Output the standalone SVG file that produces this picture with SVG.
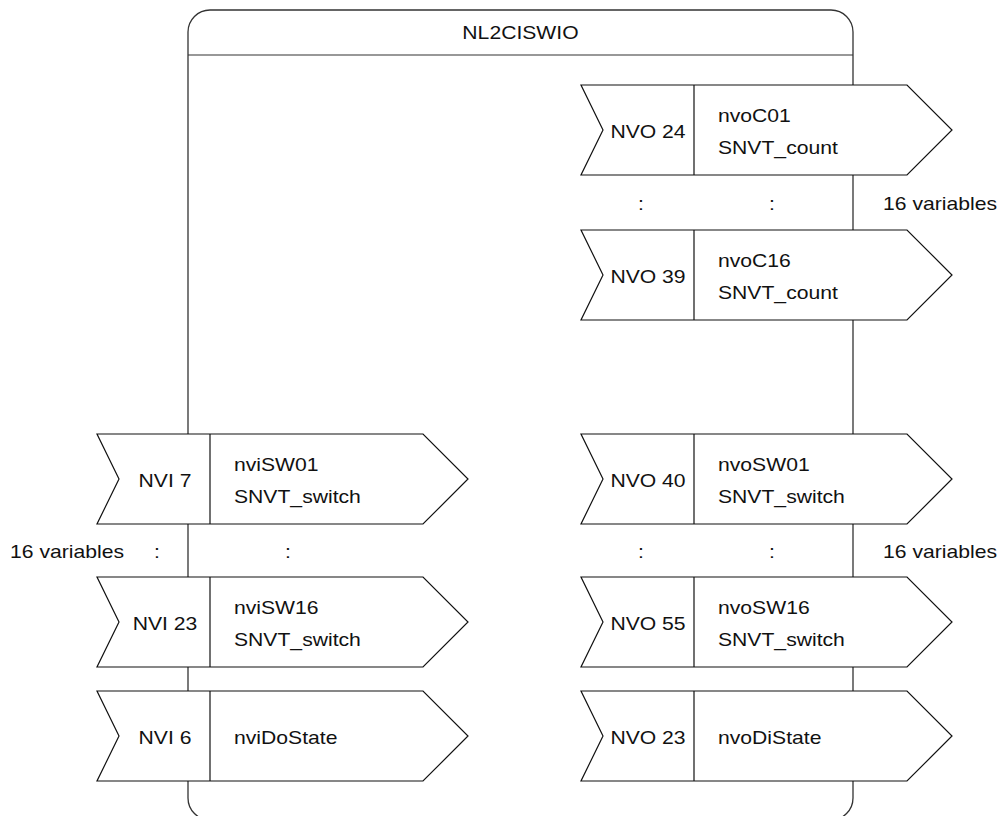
<svg xmlns="http://www.w3.org/2000/svg" width="1002" height="816" viewBox="0 0 1002 816">
<style>
.box{fill:#fff;stroke:#333;stroke-width:1.3}
.sh{fill:#fff;stroke:#111;stroke-width:1.2;stroke-linejoin:miter}
.dv{stroke:#111;stroke-width:1.2}
text{font-family:"Liberation Sans",Arial,Helvetica,sans-serif;font-size:18.5px;fill:#111}
.m{text-anchor:middle}
</style>
<g id="module">
<rect class="box" x="188" y="10" width="665" height="810" rx="22" ry="22"/>
<line class="dv" x1="188" y1="55" x2="853" y2="55" style="stroke:#333"/>
<text class="m" transform="translate(520.5,39) scale(1.143,1)">NL2CISWIO</text>
</g>
<g id="connectors"/>
<g id="nvo24">
<path class="sh" d="M581,85 L907,85 L952,130 L907,175 L581,175 L603,130 Z"/>
<line class="dv" x1="694" y1="85" x2="694" y2="175"/>
<text class="m" transform="translate(648,138) scale(1.143,1)">NVO 24</text>
<text transform="translate(718,122) scale(1.143,1)">nvoC01</text>
<text transform="translate(718,154) scale(1.143,1)">SNVT_count</text>
</g>
<g id="dots-top">
<text class="m" transform="translate(641,210) scale(1.143,1)">:</text>
<text class="m" transform="translate(772,210) scale(1.143,1)">:</text>
<text transform="translate(883,210) scale(1.143,1)">16 variables</text>
</g>
<g id="nvo39">
<path class="sh" d="M581,230 L907,230 L952,275 L907,320 L581,320 L603,275 Z"/>
<line class="dv" x1="694" y1="230" x2="694" y2="320"/>
<text class="m" transform="translate(648,283) scale(1.143,1)">NVO 39</text>
<text transform="translate(718,267) scale(1.143,1)">nvoC16</text>
<text transform="translate(718,299) scale(1.143,1)">SNVT_count</text>
</g>
<g id="nvi7">
<path class="sh" d="M97,434 L423,434 L468,479 L423,524 L97,524 L119,479 Z"/>
<line class="dv" x1="210" y1="434" x2="210" y2="524"/>
<text class="m" transform="translate(165,487) scale(1.143,1)">NVI 7</text>
<text transform="translate(234,471) scale(1.143,1)">nviSW01</text>
<text transform="translate(234,503) scale(1.143,1)">SNVT_switch</text>
</g>
<g id="nvo40">
<path class="sh" d="M581,434 L907,434 L952,479 L907,524 L581,524 L603,479 Z"/>
<line class="dv" x1="694" y1="434" x2="694" y2="524"/>
<text class="m" transform="translate(648,487) scale(1.143,1)">NVO 40</text>
<text transform="translate(718,471) scale(1.143,1)">nvoSW01</text>
<text transform="translate(718,503) scale(1.143,1)">SNVT_switch</text>
</g>
<g id="dots-left">
<text transform="translate(10,558) scale(1.143,1)">16 variables</text>
<text class="m" transform="translate(157,558) scale(1.143,1)">:</text>
<text class="m" transform="translate(288,558) scale(1.143,1)">:</text>
</g>
<g id="dots-right">
<text class="m" transform="translate(641,558) scale(1.143,1)">:</text>
<text class="m" transform="translate(772,558) scale(1.143,1)">:</text>
<text transform="translate(883,558) scale(1.143,1)">16 variables</text>
</g>
<g id="nvi23">
<path class="sh" d="M97,577 L423,577 L468,622 L423,667 L97,667 L119,622 Z"/>
<line class="dv" x1="210" y1="577" x2="210" y2="667"/>
<text class="m" transform="translate(165,630) scale(1.143,1)">NVI 23</text>
<text transform="translate(234,614) scale(1.143,1)">nviSW16</text>
<text transform="translate(234,646) scale(1.143,1)">SNVT_switch</text>
</g>
<g id="nvo55">
<path class="sh" d="M581,577 L907,577 L952,622 L907,667 L581,667 L603,622 Z"/>
<line class="dv" x1="694" y1="577" x2="694" y2="667"/>
<text class="m" transform="translate(648,630) scale(1.143,1)">NVO 55</text>
<text transform="translate(718,614) scale(1.143,1)">nvoSW16</text>
<text transform="translate(718,646) scale(1.143,1)">SNVT_switch</text>
</g>
<g id="nvi6">
<path class="sh" d="M97,691 L423,691 L468,736 L423,781 L97,781 L119,736 Z"/>
<line class="dv" x1="210" y1="691" x2="210" y2="781"/>
<text class="m" transform="translate(165,744) scale(1.143,1)">NVI 6</text>
<text transform="translate(234,744) scale(1.143,1)">nviDoState</text>
</g>
<g id="nvo23">
<path class="sh" d="M581,691 L907,691 L952,736 L907,781 L581,781 L603,736 Z"/>
<line class="dv" x1="694" y1="691" x2="694" y2="781"/>
<text class="m" transform="translate(648,744) scale(1.143,1)">NVO 23</text>
<text transform="translate(718,744) scale(1.143,1)">nvoDiState</text>
</g>
</svg>
